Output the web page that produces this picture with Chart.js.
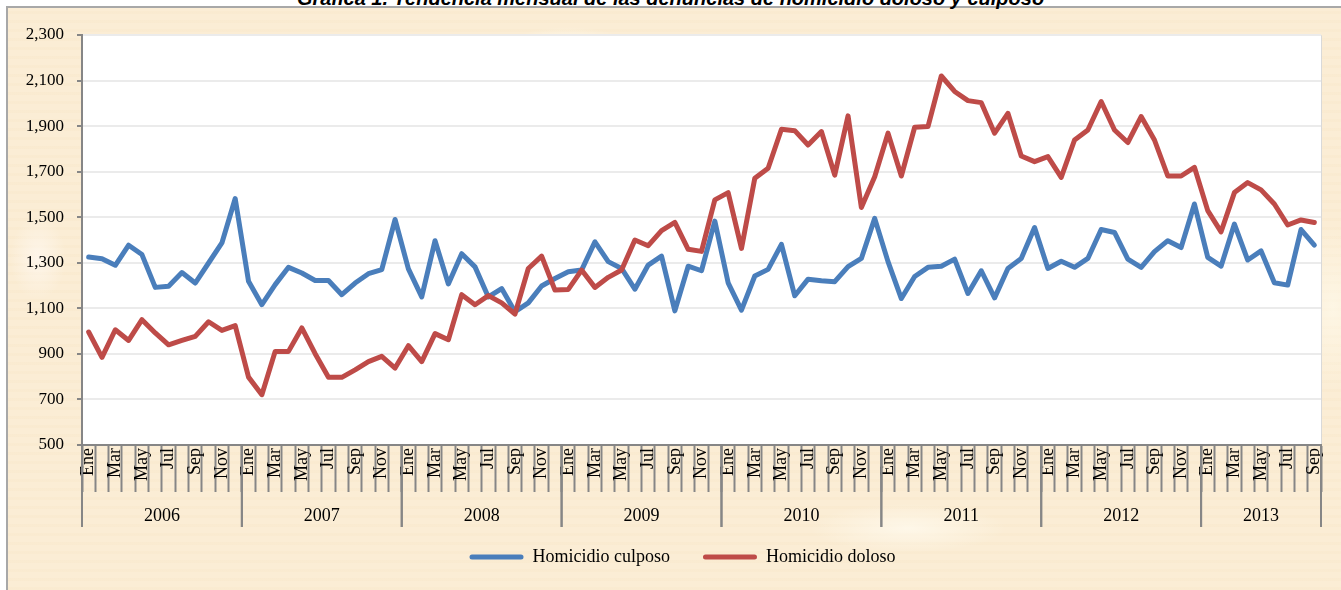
<!DOCTYPE html>
<html>
<head>
<meta charset="utf-8">
<script src="https://cdn.jsdelivr.net/npm/chart.js@4/dist/chart.umd.min.js"></script>
<style>
html, body { margin: 0; padding: 0; background: #fff; overflow: hidden; }
#wrap { position: relative; width: 1341px; height: 590px; overflow: hidden; }
#titulo { position: absolute; left: 0; top: -12px; width: 1341px; text-align: center;
  font: italic bold 20px "Liberation Sans", Arial, sans-serif; line-height: 20px; color: #000; }
#marco { position: absolute; left: 6px; top: 6px; width: 1400px; height: 600px;
  border-left: 2px solid #a8a8a8; border-top: 2px solid #a8a8a8;
  background:
    radial-gradient(ellipse 90px 30px at 560px 40px, rgba(255,252,240,.9), rgba(255,252,240,0) 70%),
    radial-gradient(ellipse 140px 35px at 900px 520px, rgba(255,250,238,.8), rgba(255,250,238,0) 70%),
    radial-gradient(ellipse 60px 120px at 1325px 300px, rgba(255,250,235,.7), rgba(255,250,235,0) 70%),
    radial-gradient(ellipse 40px 60px at 30px 250px, rgba(255,248,240,.8), rgba(255,248,240,0) 70%),
    repeating-linear-gradient(0deg, rgba(240,215,170,.10) 0 3px, rgba(255,255,255,0) 3px 9px),
    #fbedd5;
}
#grafica { position: absolute; left: 0; top: 0; }
</style>
</head>
<body>
<div id="wrap">
  <div id="marco"></div>
  <div id="titulo">Gráfica 1. Tendencia mensual de las denuncias de homicidio doloso y culposo</div>
  <canvas id="grafica" width="1341" height="590"></canvas>
</div>
<script>
const monthNames = ['Ene', 'Feb', 'Mar', 'Abr', 'May', 'Jun', 'Jul', 'Ago', 'Sep', 'Oct', 'Nov', 'Dic'];
const years = ['2006', '2007', '2008', '2009', '2010', '2011', '2012', '2013'];
const monthsIn2013 = 9;

const culposo = [
  1325, 1318, 1289, 1377, 1336, 1192, 1197, 1257, 1211, 1299, 1387, 1582,
  1219, 1116, 1204, 1280, 1255, 1222, 1222, 1160, 1211, 1252, 1270, 1490,
  1273, 1150, 1397, 1207, 1340, 1282, 1150, 1187, 1085, 1124, 1198, 1231,
  1261, 1268, 1392, 1305, 1275, 1184, 1290, 1329, 1089, 1285, 1265, 1483,
  1212, 1092, 1242, 1271, 1381, 1155, 1228, 1221, 1217, 1283, 1319, 1495,
  1305, 1143, 1240, 1280, 1285, 1316, 1165, 1265, 1146, 1275, 1319, 1455,
  1275, 1307, 1280, 1319, 1446, 1433, 1316, 1280, 1349, 1397, 1367, 1558,
  1324, 1285, 1470, 1312, 1352, 1212, 1202, 1446, 1378
];

const doloso = [
  996, 885, 1006, 959, 1050, 992, 940, 959, 977, 1041, 1003, 1024,
  798, 721, 911, 911, 1014, 901, 797, 797, 830, 866, 889, 838,
  936, 866, 989, 962, 1160, 1116, 1156, 1124, 1075, 1275, 1329, 1180,
  1183, 1268, 1192, 1236, 1268, 1400, 1375, 1441, 1477, 1359, 1350, 1576,
  1608, 1363, 1671, 1715, 1886, 1880, 1817, 1876, 1685, 1945, 1543, 1678,
  1869, 1681, 1895, 1898, 2120, 2052, 2012, 2003, 1869, 1956, 1769, 1744,
  1766, 1675, 1839, 1883, 2008, 1883, 1828, 1942, 1839, 1681, 1681, 1719,
  1529, 1436, 1608, 1652, 1620, 1558, 1466, 1488, 1477
];

const categories = [];
years.forEach((y, k) => {
  const n = k === years.length - 1 ? monthsIn2013 : 12;
  for (let m = 0; m < n; m++) categories.push(monthNames[m]);
});

const serif = '"Liberation Serif", "Times New Roman", serif';
const axisGray = '#868686';

// fondo blanco del area de trazado y fila de años bajo el eje
const fondoYAnios = {
  id: 'fondoYAnios',
  afterLayout(chart) {
    // la leyenda del original va algo corrida a la derecha
    chart.legend.left += 22;
    chart.legend.right += 22;
  },
  beforeDraw(chart) {
    const {ctx, chartArea: a} = chart;
    ctx.save();
    ctx.fillStyle = '#fff';
    ctx.fillRect(a.left, a.top, a.right - a.left, a.bottom - a.top);
    ctx.strokeStyle = '#d9d9d9';
    ctx.lineWidth = 1;
    ctx.beginPath();
    ctx.moveTo(a.left, a.top + 0.5);
    ctx.lineTo(a.right + 0.5, a.top + 0.5);
    ctx.lineTo(a.right + 0.5, a.bottom);
    ctx.stroke();
    ctx.restore();
  },
  afterDraw(chart) {
    const {ctx, chartArea: a, scales: {x}} = chart;
    const half = (x.getPixelForValue(1) - x.getPixelForValue(0)) / 2;
    ctx.save();
    ctx.strokeStyle = axisGray;
    ctx.lineWidth = 2;
    ctx.fillStyle = '#000';
    ctx.font = '18px ' + serif;
    ctx.textAlign = 'center';
    ctx.textBaseline = 'middle';
    years.forEach((year, k) => {
      const first = k * 12;
      const last = Math.min(first + 11, categories.length - 1);
      const x0 = x.getPixelForValue(first) - half;
      const x1 = x.getPixelForValue(last) + half;
      ctx.beginPath();
      ctx.moveTo(x0, a.bottom);
      ctx.lineTo(x0, a.bottom + 82);
      ctx.moveTo(x1, a.bottom);
      ctx.lineTo(x1, a.bottom + 82);
      ctx.stroke();
      ctx.fillText(year, (x.getPixelForValue(first) + x.getPixelForValue(last)) / 2, a.bottom + 71);
    });
    ctx.restore();
  }
};

new Chart(document.getElementById('grafica'), {
  type: 'line',
  data: {
    labels: categories,
    datasets: [
      {
        label: 'Homicidio culposo',
        data: culposo,
        borderColor: '#4a7ebb',
        backgroundColor: '#4a7ebb',
        borderWidth: 5,
        pointRadius: 0,
        tension: 0,
        fill: false,
        order: 1,
        borderJoinStyle: 'round',
        borderCapStyle: 'round'
      },
      {
        label: 'Homicidio doloso',
        data: doloso,
        borderColor: '#be4b48',
        backgroundColor: '#be4b48',
        borderWidth: 5,
        pointRadius: 0,
        tension: 0,
        fill: false,
        order: 0,
        borderJoinStyle: 'round',
        borderCapStyle: 'round'
      }
    ]
  },
  options: {
    responsive: false,
    animation: false,
    layout: { padding: { left: 0, right: 20, top: 35, bottom: 14 } },
    scales: {
      x: {
        offset: true,
        grid: { offset: true, drawOnChartArea: false, tickLength: 47, tickWidth: 2, tickColor: axisGray },
        border: { color: axisGray, width: 2 },
        ticks: {
          autoSkip: false,
          minRotation: 90,
          maxRotation: 90,
          padding: -44,
          color: '#000',
          font: { family: serif, size: 18 },
          callback: (v, i) => i % 2 === 0 ? categories[i] : ''
        },
        afterFit: s => { s.height = 70; }
      },
      y: {
        min: 500,
        max: 2300,
        ticks: {
          stepSize: 200,
          padding: 13,
          color: '#000',
          font: { family: serif, size: 17 },
          callback: v => v.toLocaleString('en-US')
        },
        grid: { color: '#ebebeb', lineWidth: 2, tickLength: 5, tickWidth: 2, tickColor: axisGray },
        border: { color: axisGray, width: 2 },
        afterFit: s => { s.width = 82; }
      }
    },
    plugins: {
      tooltip: { enabled: false },
      legend: {
        position: 'bottom',
        labels: {
          boxWidth: 54,
          boxHeight: 5,
          padding: 33,
          color: '#000',
          font: { family: serif, size: 18 },
          sort: (a, b) => a.datasetIndex - b.datasetIndex,
          generateLabels: chart => Chart.defaults.plugins.legend.labels.generateLabels(chart)
            .map(l => Object.assign(l, { lineWidth: 0, borderRadius: 2.5 }))
        }
      }
    }
  },
  plugins: [fondoYAnios]
});
</script>
</body>
</html>
